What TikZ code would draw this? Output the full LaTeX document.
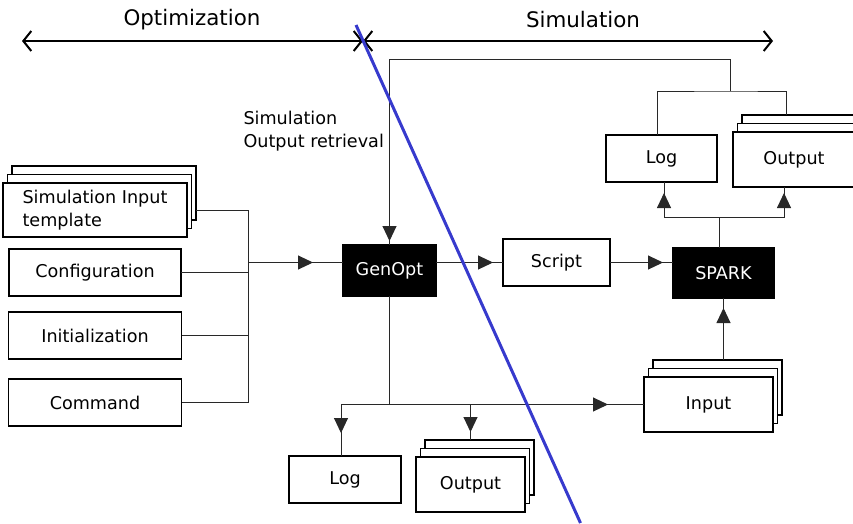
\documentclass[tikz,border=0pt]{standalone}
\usepackage{fontspec}
\setmainfont{DejaVu Sans}
\usetikzlibrary{
  arrows.meta,
  decorations.markings,
  positioning,
  shadows,
}
\definecolor{divblue}{RGB}{55, 58, 205}
\definecolor{wire}{RGB}{40, 40, 40}
\tikzstyle{box} = [
  rectangle,
  draw,
  line width=1.6pt,
  fill=white,
  inner sep=0pt,
  outer sep=0pt,
  font=\fontsize{17.6}{23}\selectfont,
]
\tikzstyle{blackbox} = [box, fill=black, text=white]
\tikzstyle{stack} = [
  box,
  copy shadow={shadow xshift=9pt, shadow yshift=17pt, draw=black, fill=white, line width=1.6pt},
  copy shadow={shadow xshift=4.5pt, shadow yshift=8.5pt, draw=black, fill=white, line width=1.6pt},
]
\tikzstyle{line} = [line width=1pt, draw=wire]
\tikzstyle{arrowat} = [
  line,
  postaction={decorate},
  decoration={markings, mark=at position #1 with {\arrow{Triangle[length=15pt,width=14pt]}}},
]
\tikzstyle{span} = [
  line width=2pt,
  {Straight Barb[length=8pt,width=20pt]}-{Straight Barb[length=8pt,width=20pt]},
]
\tikzstyle{divider} = [line width=3pt, divblue]

\begin{document}
\begin{tikzpicture}[x=1pt, y=-1pt]
      \useasboundingbox (0,0) rectangle (853,523);
      \clip (0,0) rectangle (853,523);

      % phases
      \node[font=\fontsize{21.4}{26}\selectfont] (optlabel) at (192,20) {Optimization};
      \node[font=\fontsize{21.4}{26}\selectfont] (simlabel) at (583,20) {Simulation};
      \coordinate (optl) at (22,41);
      \coordinate (mid)  at (363,41);
      \coordinate (simr) at (773,41);
      \draw[span] (optl) -- (mid);
      \draw[span] (mid) -- (simr);

      % inputs of GenOpt
      \node[stack,minimum width=184pt,minimum height=54pt,align=left] (tmpl) at (95,210) {Simulation Input\\template};
      \node[box,minimum width=172pt,minimum height=47pt] (config) [below=12pt of tmpl] {Configuration};
      \node[box,minimum width=173pt,minimum height=47pt] (init)   [below=16pt of config] {Initialization};
      \node[box,minimum width=173pt,minimum height=47pt] (cmd)    [below=20pt of init] {Command};

      \node[blackbox,minimum width=93pt,minimum height=51pt]  (genopt) at (389.5,270.5) {GenOpt};
      \node[box,minimum width=107pt,minimum height=47pt]      (script) at (556.5,262.5) {Script};
      \node[blackbox,minimum width=101pt,minimum height=50pt] (spark)  at (723.5,273)   {SPARK};

      \node[box,minimum width=111pt,minimum height=47pt]   (logsim) at (661.5,158.5) {Log};
      \node[stack,minimum width=122pt,minimum height=55pt] (outsim) at (794,159.5)   {Output};
      \node[stack,minimum width=129pt,minimum height=55pt] (input)  at (708.5,404.5) {Input};

      \node[box,minimum width=112pt,minimum height=47pt]   (logopt) at (345,479.5)   {Log};
      \node[stack,minimum width=109pt,minimum height=55pt] (outopt) at (470.5,484.5) {Output};

      \node[font=\fontsize{17.6}{23}\selectfont,align=left,anchor=west] (retr) at (240,131) {Simulation\\Output retrieval};

      % bus into GenOpt
      \coordinate (bustop) at (248,210);
      \draw[line] ([xshift=9pt]tmpl.east) -- (bustop);
      \draw[line] (bustop) -- (bustop |- cmd.east);
      \draw[line] (config.east) -- (config.east -| bustop);
      \draw[line] (init.east) -- (init.east -| bustop);
      \draw[line] (cmd.east) -- (cmd.east -| bustop);
      \draw[arrowat=-30pt] (bustop |- script.west) -- (genopt.west |- script.west);
      \draw[arrowat=-10pt] (genopt.east |- script.west) -- (script.west);
      \draw[arrowat=-10pt] (script.east) -- (spark.west |- script.east);

      % results back to GenOpt
      \coordinate (join) at (730,91);
      \coordinate (ret)  at (730,59);
      \coordinate (logsimtop) at ([xshift=-4.5pt]logsim.north);
      \coordinate (outsimtop) at ([xshift=-8pt,yshift=17pt]outsim.north);
      \draw[line] (logsimtop) |- (join) -| (outsimtop);
      \draw[arrowat=-4pt] (join) -- (ret) -| (genopt.north);

      % SPARK writes
      \coordinate (fork) at (719,217);
      \draw[line] ([xshift=-4.5pt]spark.north) -- (fork);
      \draw[arrowat=-11pt] (fork) -| ([xshift=2.5pt]logsim.south);
      \draw[arrowat=-6pt] (fork) -| ([xshift=-10pt]outsim.south);
      \coordinate (inputtop) at ([yshift=17pt]input.north);
      \draw[arrowat=-10pt] (inputtop -| spark.south) -- (spark.south);

      % GenOpt writes
      \coordinate (logopttop) at ([xshift=-4pt]logopt.north);
      \coordinate (outopttop) at ([yshift=17pt]outopt.north);
      \draw[line] (genopt.south) -- (genopt.south |- input.west);
      \draw[arrowat=-36pt] (logopttop |- input.west) -- (input.west);
      \draw[arrowat=-23pt] (logopttop |- input.west) -- (logopttop);
      \draw[arrowat=-8pt] (outopttop |- input.west) -- (outopttop);

      % border between the phases
      \coordinate (divtop) at (356,25);
      \coordinate (divbot) at (580.5,523);
      \draw[divider] (divtop) -- (divbot);

\end{tikzpicture}
\end{document}
